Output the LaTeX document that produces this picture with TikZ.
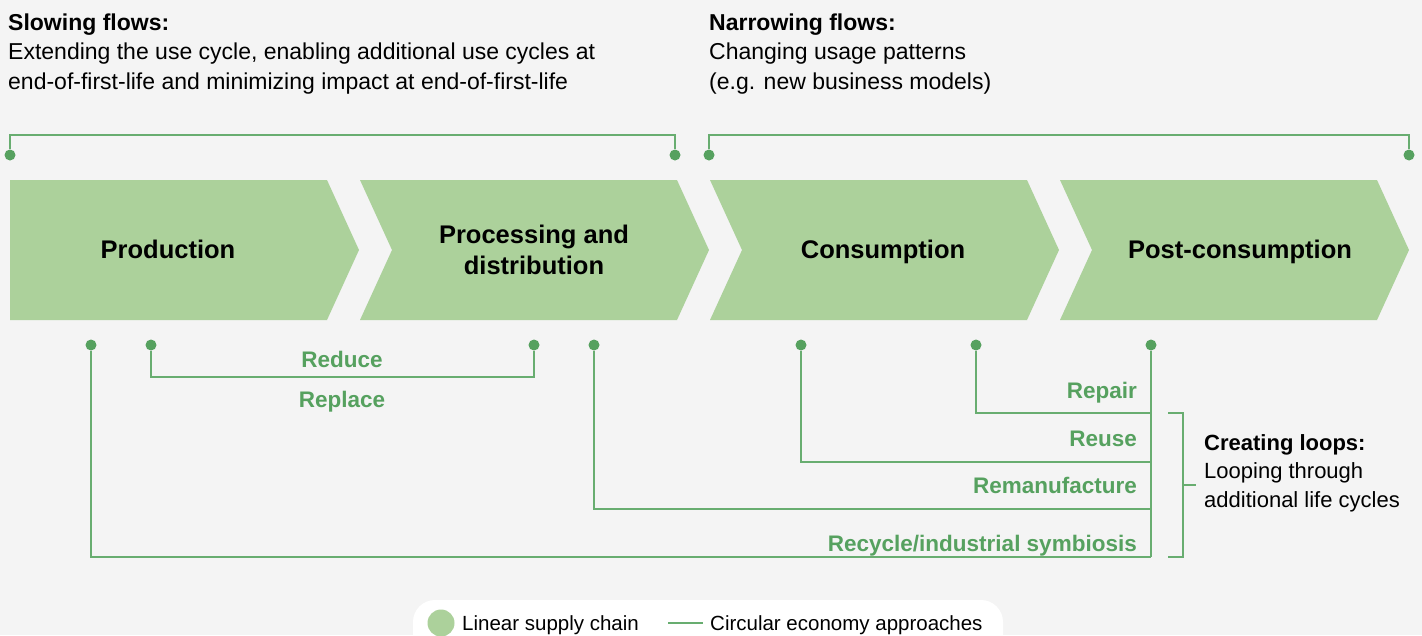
\documentclass[tikz,border=0pt]{standalone}
\usepackage{fontspec}
\setmainfont{Liberation Sans}
\usetikzlibrary{positioning}
\usetikzlibrary{shapes,arrows}

\definecolor{paper}{HTML}{F4F4F4}
\definecolor{stagefill}{HTML}{ACD19B}
\definecolor{loopgreen}{HTML}{56A15F}
\definecolor{linkgreen}{HTML}{68AD70}

\tikzset{
    stud/.style={circle,fill=loopgreen,inner sep=0pt,minimum size=11pt},
    link/.style={draw=linkgreen,line width=1.5pt},
    stage/.style={inner sep=0pt,font=\fontsize{25.5}{31}\selectfont\bfseries,align=center},
    approach/.style={inner sep=0pt,text=loopgreen,font=\fontsize{22.5}{27}\selectfont\bfseries},
    heading/.style={align=left,inner sep=0pt,font=\fontsize{23}{29.5}\selectfont},
}

\begin{document}
\begin{tikzpicture}[x=1pt,y=-1pt]
    \fill[paper] (0,0) rectangle (1422,635);
    \useasboundingbox (0,0) rectangle (1422,635);

    %Headings (base = last line)
    \node[heading,anchor=base west] (slow) at (8,89) {\textbf{Slowing flows:}\\Extending the use cycle, enabling additional use cycles at\\end-of-first-life and minimizing impact at end-of-first-life};
    \node[heading,anchor=base west] (narrow) at (709,89) {\textbf{Narrowing flows:}\\Changing usage patterns\\(e.g. new business models)};

    %Brackets over the stages
    \node[stud] (t1) at (10,155) {};
    \node[stud] (t2) at (675,155) {};
    \node[stud] (t3) at (709,155) {};
    \node[stud] (t4) at (1409,155) {};
    \coordinate (sl) at (342,135);
    \coordinate (nr) at (1059,135);
    \draw[link] (t1.north) |- (sl) -| (t2.north);
    \draw[link] (t3.north) |- (nr) -| (t4.north);

    %Stages
    \foreach \x/\k in {10/0,360/32,710/32,1060/32} {
        \fill[stagefill] (\x,180) -- (\x+317,180) -- (\x+349,250) -- (\x+317,320) -- (\x,320) -- (\x+\k,250) -- cycle;
    }
    \node[stage,anchor=base] (prod) at (168,258) {Production};
    \node[stage,anchor=base] (proc) at (534,274) {Processing and\\distribution};
    \node[stage,anchor=base] (cons) at (883,258) {Consumption};
    \node[stage,anchor=base] (post) at (1240,258) {Post-consumption};

    %Approaches
    \foreach \n/\x in {1/91,2/151,3/534,4/594,5/801,6/976,7/1151} {
        \node[stud] (s\n) at (\x,345) {};
    }
    \coordinate (rr) at (342,377);
    \draw[link] (s2.south) |- (rr) -| (s3.south);
    \node[approach,anchor=base] (reduce) at (342,367) {Reduce};
    \node[approach,anchor=base] (replace) at (342,407) {Replace};

    \coordinate (h1) at (1151,413);
    \coordinate (h2) at (1151,462);
    \coordinate (h3) at (1151,509);
    \coordinate (h4) at (1151,557);
    \draw[link] (s6.south) |- (h1);
    \draw[link] (s5.south) |- (h2);
    \draw[link] (s4.south) |- (h3);
    \draw[link] (s1.south) |- (h4);
    \draw[link] (s7.south) -- (h4);
    \node[approach,anchor=base east] (repair) at (1137,398) {Repair};
    \node[approach,anchor=base east] (reuse) at (1137,446) {Reuse};
    \node[approach,anchor=base east] (reman) at (1137,493) {Remanufacture};
    \node[approach,anchor=base east] (recyc) at (1137,551) {Recycle/industrial symbiosis};

    %Loop bracket
    \coordinate (bt) at (1168,413);
    \coordinate (bb) at (1168,557);
    \coordinate (bm) at (1183,485);
    \coordinate (bk) at (1196,485);
    \draw[link] (bt) -| (bm) |- (bb);
    \draw[link] (bm) -- (bk);
    \node[heading,anchor=base west,font=\fontsize{22}{28.5}\selectfont] (loops) at (1204,507) {\textbf{Creating loops:}\\Looping through\\additional life cycles};

    %Legend
    \begin{scope}
        \clip (0,0) rectangle (1422,635);
        \fill[white,rounded corners=22pt] (413,600) rectangle (1003,670);
    \end{scope}
    \node[circle,fill=stagefill,inner sep=0pt,minimum size=27pt] (lin) at (441,623) {};
    \node[anchor=base west,inner sep=0pt,font=\fontsize{20.5}{24}\selectfont] (lintext) at (462,630) {Linear supply chain};
    \coordinate (ca) at (668,623);
    \coordinate (cb) at (703,623);
    \draw[draw=linkgreen,line width=1.2pt] (ca) -- (cb);
    \node[anchor=base west,inner sep=0pt,font=\fontsize{20.5}{24}\selectfont] (circtext) at (710,630) {Circular economy approaches};
\end{tikzpicture}
\end{document}
